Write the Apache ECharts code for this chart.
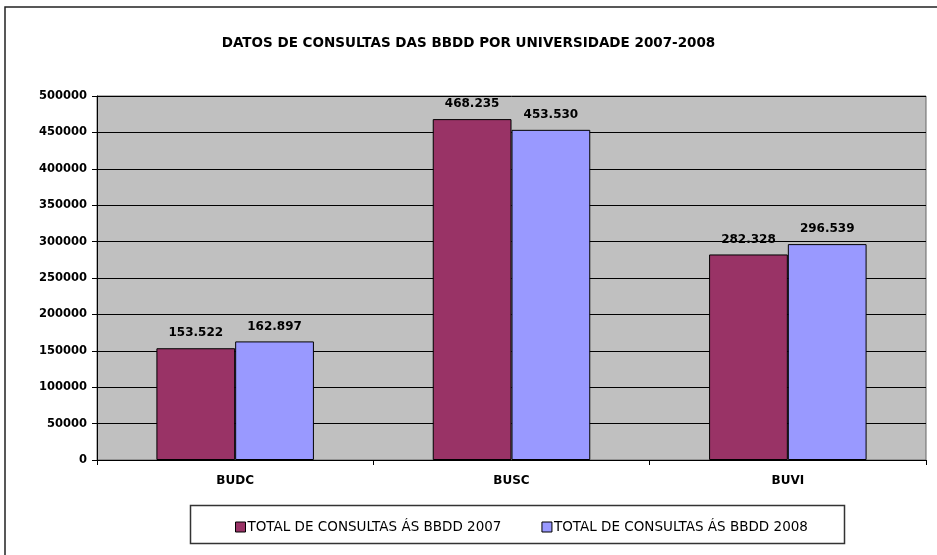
<!DOCTYPE html>
<html><head><meta charset="utf-8">
<script src="https://cdn.jsdelivr.net/npm/echarts@6/dist/echarts.min.js"></script>
<style>html,body{margin:0;padding:0;background:#fff}#c{width:937px;height:555px}</style>
</head><body><div id="c"></div>
<script>
const categories = ['BUDC', 'BUSC', 'BUVI'];
const values2007 = [153522, 468235, 282328];
const values2008 = [162897, 453530, 296539];
const seriesNames = ['TOTAL DE CONSULTAS ÁS BBDD 2007', 'TOTAL DE CONSULTAS ÁS BBDD 2008'];
const titleText = 'DATOS DE CONSULTAS DAS BBDD POR UNIVERSIDADE 2007-2008';

const FONT = '"DejaVu Sans", sans-serif';
const fmt = v => String(v).replace(/\B(?=(\d{3})+(?!\d))/g, '.');

const chart = echarts.init(document.getElementById('c'));
const labelStyle = {
  show: true, position: 'top', distance: 9,
  formatter: p => fmt(p.value),
  color: '#000', fontFamily: FONT, fontWeight: 'bold', fontSize: 12
};
chart.setOption({
  animation: false,
  backgroundColor: '#fff',
  title: {
    text: titleText, left: 'center', top: 31,
    textStyle: { fontFamily: FONT, fontWeight: 'bold', fontSize: 13.5, color: '#000' }
  },
  graphic: [
    { type: 'polyline', shape: { points: [[5, 560], [5, 7], [960, 7]] }, style: { stroke: '#222', lineWidth: 1.5, fill: null } },
    { type: 'rect', shape: { x: 190.5, y: 505.5, width: 654, height: 38 }, style: { stroke: '#333', lineWidth: 1.5, fill: '#fff' }, z: 0 }
  ],
  legend: {
    data: seriesNames, left: 230, top: 515, itemGap: 40,
    itemWidth: 10, itemHeight: 10, icon: 'rect', z: 10,
    textStyle: { fontFamily: FONT, fontSize: 13.5, color: '#000', padding: [0, 0, 0, -3] },
    itemStyle: { borderColor: '#000', borderWidth: 1 }
  },
  grid: { left: 97, right: 11, top: 96, bottom: 95, show: true, backgroundColor: '#C0C0C0', borderWidth: 1, borderColor: '#666' },
  xAxis: {
    type: 'category', data: categories,
    axisLine: { lineStyle: { color: '#000', width: 1 } },
    axisTick: { show: true, length: 5, lineStyle: { color: '#000' } },
    axisLabel: { color: '#000', fontFamily: FONT, fontWeight: 'bold', fontSize: 12, margin: 15 }
  },
  yAxis: {
    type: 'value', min: 0, max: 500000, interval: 50000,
    axisLine: { show: true, lineStyle: { color: '#000', width: 1 } },
    axisTick: { show: true, length: 5, lineStyle: { color: '#000' } },
    axisLabel: { color: '#000', fontFamily: FONT, fontWeight: 'bold', fontSize: 11.5, margin: 10, formatter: v => String(v) },
    splitLine: { lineStyle: { color: '#000', width: 1 } }
  },
  series: [
    { name: seriesNames[0], type: 'bar', data: values2007, barGap: '0%', barCategoryGap: '43%',
      itemStyle: { color: '#993366', borderColor: '#000', borderWidth: 1 }, label: labelStyle },
    { name: seriesNames[1], type: 'bar', data: values2008,
      itemStyle: { color: '#9999FF', borderColor: '#000', borderWidth: 1 }, label: labelStyle }
  ]
});
</script></body></html>
